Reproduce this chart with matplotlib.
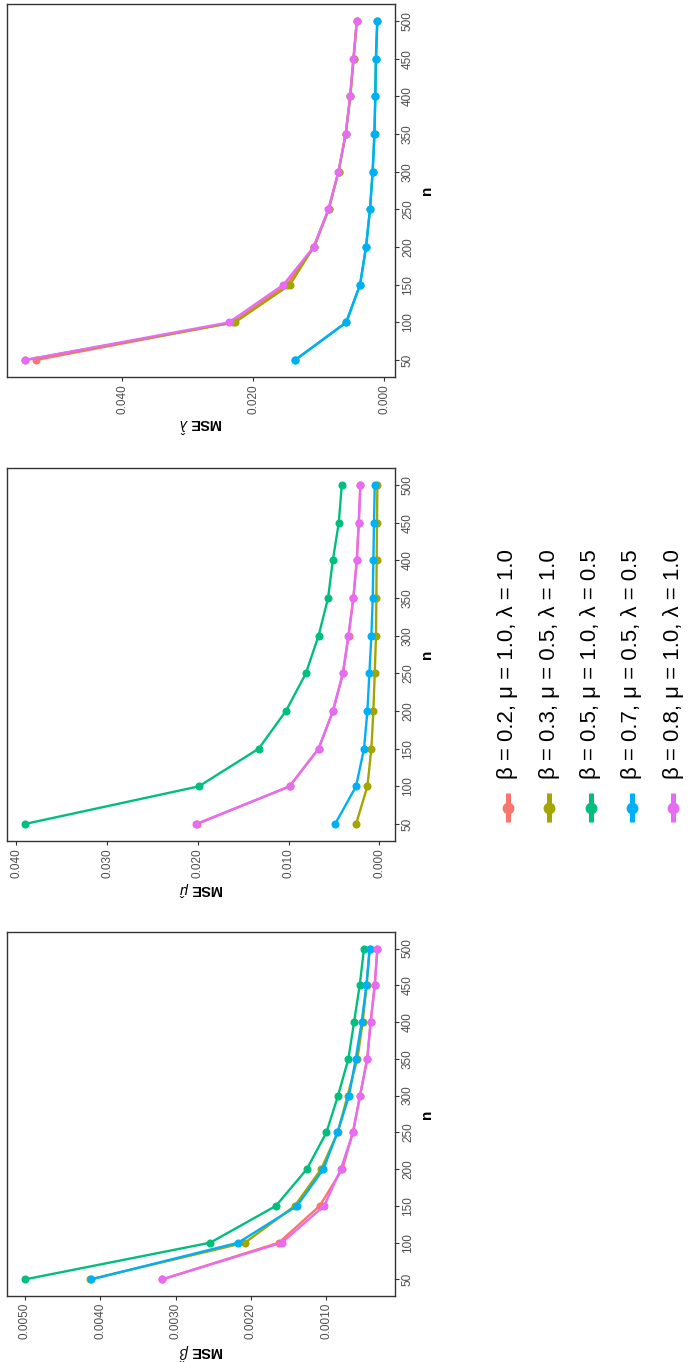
import matplotlib
matplotlib.use("Agg")
import matplotlib.pyplot as plt
import matplotlib.ticker as ticker

plt.rcParams['font.family'] = ['Liberation Sans', 'DejaVu Sans']
plt.rcParams['mathtext.fontset'] = 'custom'
plt.rcParams['mathtext.rm'] = 'Liberation Sans'
plt.rcParams['mathtext.it'] = 'Liberation Sans:italic'
plt.rcParams['mathtext.bf'] = 'Liberation Sans:bold'

# sample sizes
n_vals = [50, 100, 150, 200, 250, 300, 350, 400, 450, 500]

labels = ['β = 0.2, μ = 1.0, λ = 1.0',
          'β = 0.3, μ = 0.5, λ = 1.0',
          'β = 0.5, μ = 1.0, λ = 0.5',
          'β = 0.7, μ = 0.5, λ = 0.5',
          'β = 0.8, μ = 1.0, λ = 1.0']
colors = ['#F8766D', '#A3A500', '#00BF7D', '#00B0F6', '#E76BF3']

# MSE of beta hat
beta_s1 = [0.00318, 0.00163, 0.00109, 0.00079, 0.00065, 0.000555, 0.00046, 0.000415, 0.00036, 0.000325]
beta_s2 = [0.00414, 0.00208, 0.00142, 0.00107, 0.00085, 0.00072, 0.00059, 0.00052, 0.000466, 0.000427]
beta_s3 = [0.00500, 0.00254, 0.00167, 0.00126, 0.00100, 0.000846, 0.000709, 0.000634, 0.000559, 0.000502]
beta_s4 = [0.00412, 0.00217, 0.00139, 0.00104, 0.000854, 0.00070, 0.000612, 0.000533, 0.000471, 0.000427]
beta_s5 = [0.00318, 0.00159, 0.00103, 0.00081, 0.000647, 0.000555, 0.000458, 0.000413, 0.00036, 0.000325]

# MSE of mu hat
mu_s1 = [0.0201, 0.0099, 0.0067, 0.0051, 0.0040, 0.0034, 0.00286, 0.00249, 0.00227, 0.00209]
mu_s2 = [0.00257, 0.00132, 0.00088, 0.00066, 0.00051, 0.00037, 0.00033, 0.00030, 0.00026, 0.00022]
mu_s3 = [0.0391, 0.0199, 0.0133, 0.0103, 0.0081, 0.0067, 0.00565, 0.00513, 0.00447, 0.00414]
mu_s4 = [0.00488, 0.00257, 0.00169, 0.00132, 0.0011, 0.00088, 0.00073, 0.00066, 0.00059, 0.00051]
mu_s5 = [0.0202, 0.0099, 0.0067, 0.00513, 0.00403, 0.00341, 0.00286, 0.00249, 0.00227, 0.00209]

# MSE of lambda hat
lam_s1 = [0.0532, 0.0231, 0.0149, 0.0107, 0.0085, 0.0070, 0.0059, 0.0052, 0.0047, 0.0042]
lam_s2 = [0.0548, 0.0228, 0.0144, 0.0108, 0.0085, 0.0070, 0.0059, 0.0052, 0.0047, 0.0042]
lam_s3 = [0.0136, 0.0058, 0.0037, 0.0028, 0.0022, 0.0018, 0.0015, 0.0014, 0.0013, 0.0011]
lam_s4 = [0.01364, 0.00585, 0.00372, 0.0028, 0.00219, 0.00178, 0.00153, 0.00137, 0.00127, 0.00107]
lam_s5 = [0.0549, 0.0237, 0.0154, 0.0108, 0.00855, 0.00702, 0.0059, 0.00524, 0.00473, 0.00422]

W, H = 688, 1362


def px_rect(left, top, right, bottom):
    return [left / W, 1 - bottom / H, (right - left) / W, (bottom - top) / H]


def panel(rect, series, xlabel, xticks, fmt):
    ax = fig.add_axes(rect)
    for s, c in zip(series, colors):
        ax.plot(s, n_vals, color=c, lw=1.7, marker='o', ms=4.8, solid_capstyle='round')
    lo = min(min(s) for s in series)
    hi = max(max(s) for s in series)
    pad = 0.05 * (hi - lo)
    # rotated panel: MSE runs right-to-left, n bottom-to-top
    ax.set_xlim(hi + pad, lo - pad)
    ax.set_ylim(27.5, 522.5)
    ax.set_xticks(xticks)
    ax.xaxis.set_major_formatter(ticker.FormatStrFormatter(fmt))
    ax.set_yticks(n_vals)
    ax.yaxis.tick_right()
    ax.yaxis.set_label_position('right')
    ax.tick_params(axis='x', labelrotation=90)
    ax.tick_params(axis='y', labelrotation=90)
    for lab in ax.get_yticklabels():
        lab.set_va('center')
    ax.tick_params(colors='#333333', labelcolor='#4D4D4D', labelsize=8.5,
                   length=3, width=0.8, pad=2)
    for sp in ax.spines.values():
        sp.set_color('#333333')
        sp.set_linewidth(1.0)
    ax.set_xlabel(xlabel, rotation=180, fontsize=10.5, fontweight='bold', labelpad=1)
    ax.set_ylabel('n', rotation=90, fontsize=11, fontweight='bold', labelpad=4)
    return ax


fig = plt.figure(figsize=(W / 100, H / 100), dpi=100)

panel(px_rect(7, 4, 395, 377), [lam_s1, lam_s2, lam_s3, lam_s4, lam_s5],
      r'MSE $\hat{\lambda}$', [0.0, 0.02, 0.04], '%.3f')
panel(px_rect(7, 468, 395, 841), [mu_s1, mu_s2, mu_s3, mu_s4, mu_s5],
      r'MSE $\hat{\mu}$', [0.0, 0.01, 0.02, 0.03, 0.04], '%.3f')
panel(px_rect(7, 932, 395, 1296), [beta_s1, beta_s2, beta_s3, beta_s4, beta_s5],
      r'MSE $\hat{\beta}$', [0.001, 0.002, 0.003, 0.004, 0.005], '%.4f')

# legend drawn sideways, like the rest of the page
leg = fig.add_axes([0, 0, 1, 1])
leg.set_xlim(0, W)
leg.set_ylim(H, 0)
leg.axis('off')
for i, (lab, c) in enumerate(zip(labels, colors)):
    x = 508 + i * 41.3
    leg.plot([x, x], [793, 822], color=c, lw=3.6, solid_capstyle='butt')
    leg.plot(x, 808, 'o', color=c, ms=7.5)
    leg.text(x, 779, lab, rotation=90, ha='center', va='bottom', fontsize=16)

fig.savefig('out.png', dpi=100)
